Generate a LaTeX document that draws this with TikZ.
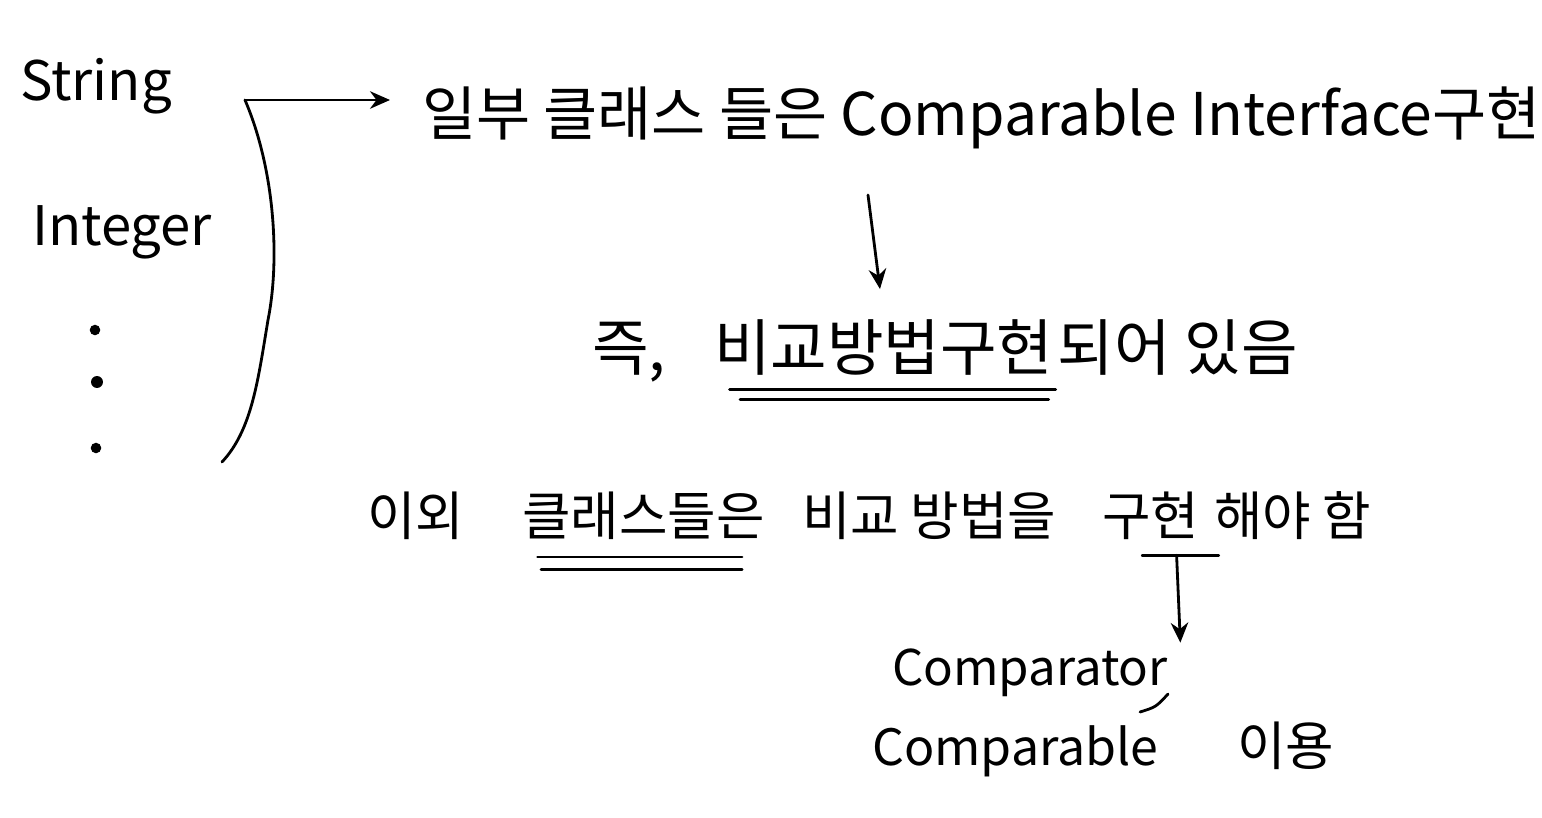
\documentclass[tikz,border=0pt]{standalone}
\usepackage{fontspec}
\setmainfont{Noto Sans CJK KR}
\usetikzlibrary{arrows.meta, positioning, calc}

\begin{document}
\begin{tikzpicture}[
  x=0.02cm, y=-0.02cm,
  >={Stealth[length=4mm, width=3.5mm]},
  txt/.style={font=\fontsize{#1}{#1}\selectfont, text=black, inner sep=1pt, anchor=base west},
  txt/.default=32,
  stroke/.style={line width=1.6pt, line cap=round, line join=round},
  arr/.style={->, stroke},
  uline/.style={stroke},
]

% Background
\fill[white] (0,0) rectangle (1542,818);
\useasboundingbox (0,0) rectangle (1542,818);

% =============================================
% Left: list of classes with brace
% =============================================
\node[txt=31] (string) at (18,100) {String};
\node[txt=31] (integer) at (30,245) {Integer};
\fill (95,330) circle (3pt);
\fill (97,382) circle (3.4pt);
\fill (96,448) circle (3pt);

\coordinate (brtop) at (245,100);
\coordinate (brbot) at (222,462);
\draw[stroke] (brtop) .. controls (275,170) and (280,260) .. (268,320)
  .. controls (258,380) and (252,430) .. (brbot);

% =============================================
% Line 1
% =============================================
\node[txt=33.5] (some) at (420,135) {일부 클래스 들은 Comparable Interface구현};
\draw[arr, shorten >=0.6cm] (brtop) -- (brtop -| some.west);

% Arrow down
\coordinate (dntop) at (868,195);

% =============================================
% Line 2
% =============================================
\node[txt=35] (jeuk) at (590,370) {즉,};
\node[txt=35] (bigyo) at (712,370) {비교방법구현};
\node[txt=35, anchor=base west] (doeeo) at (bigyo.base east) {되어 있음};
\draw[arr] (dntop) -- ($(dntop |- bigyo.north)+(12,-28)$);

\draw[uline] ([xshift=10pt, yshift=-7pt]bigyo.south west) -- ([yshift=-7pt]bigyo.south east);
\draw[uline] ([xshift=16pt, yshift=-13pt]bigyo.south west) -- ([xshift=-4pt, yshift=-13pt]bigyo.south east);

% =============================================
% Line 3
% =============================================
\node[txt=30] (iwoe) at (365,535) {이외};
\node[txt=30] (klass) at (520,535) {클래스들은};
\node[txt=30] (bigyob) at (800,535) {비교 방법을};
\node[txt=30] (guhyeon) at (1100,535) {구현};
\node[txt=30] (haeya) at (1212,535) {해야 함};

\draw[uline] ([xshift=10pt, yshift=-9pt]klass.south west) -- ([xshift=-14pt, yshift=-9pt]klass.south east);
\draw[uline] ([xshift=12pt, yshift=-16pt]klass.south west) -- ([xshift=-14pt, yshift=-16pt]klass.south east);

\draw[uline] ([xshift=24pt, yshift=-8pt]guhyeon.south west) -- ([xshift=10pt, yshift=-8pt]guhyeon.south east);
\coordinate (gutail) at ($(guhyeon.south)+(26,14)$);

% =============================================
% Bottom: Comparator / Comparable
% =============================================
\node[txt=28] (cmptor) at (890,685) {Comparator};
\node[txt=28.5] (cmpble) at (870,765) {Comparable};
\node[txt=30] (iyong) at (1235,765) {이용};

\draw[arr] (gutail) -- ([xshift=6pt, yshift=2pt]cmptor.north east);
\draw[stroke] (1140,712) .. controls (1156,707) .. (1168,694);

\end{tikzpicture}
\end{document}
